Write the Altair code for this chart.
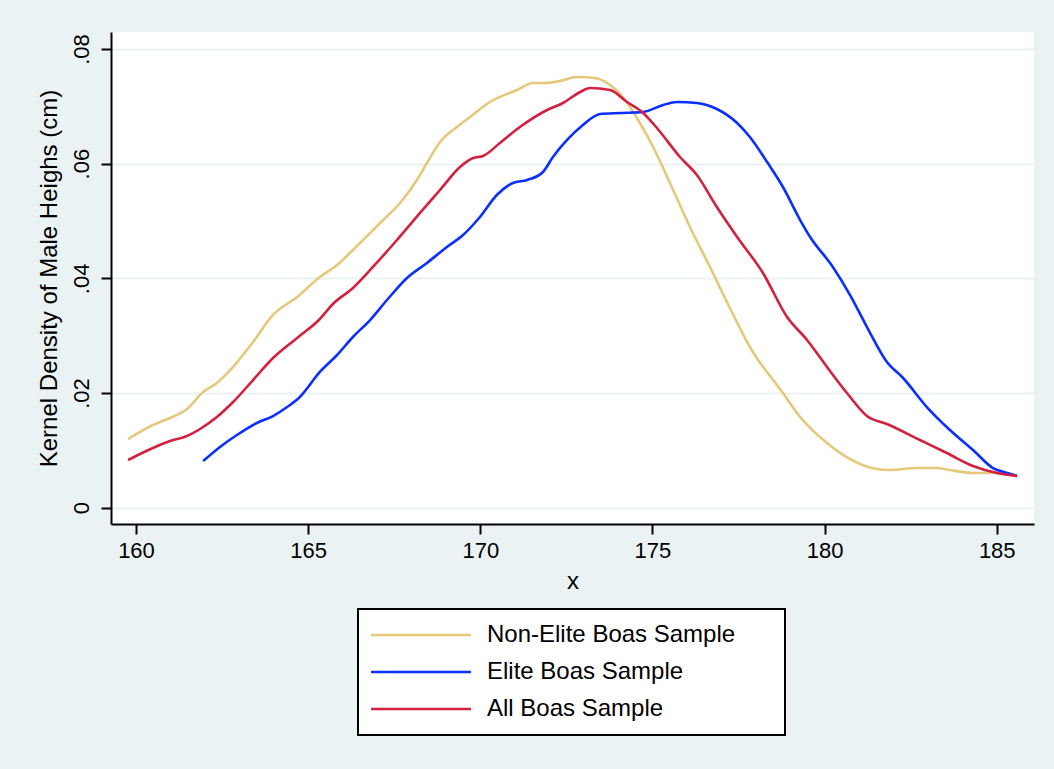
import altair as alt
import pandas as pd

series_names = ["Non-Elite Boas Sample", "Elite Boas Sample", "All Boas Sample"]
series_colors = ["#E5C87A", "#0A2FFF", "#D4203F"]

nonelite_x = [159.77, 160.49, 160.99, 161.48, 161.95, 162.35, 162.82, 163.40, 163.98, 164.68,
              165.34, 165.84, 166.30, 167.09, 167.67, 168.16, 168.45, 168.83, 169.32, 169.70,
              170.28, 171.07, 171.53, 171.94, 172.31, 172.81, 173.33, 173.77, 174.14, 174.55,
              175.02, 175.51, 176.09, 176.67, 177.25, 177.83, 178.79, 179.29, 180.07, 180.74,
              181.52, 181.90, 182.68, 183.26, 183.64, 184.31, 185.01, 185.59]
nonelite_y = [0.01198, 0.01442, 0.01564, 0.01721, 0.02018, 0.02175, 0.02454, 0.02890, 0.03361, 0.03675,
              0.04023, 0.04233, 0.04494, 0.04965, 0.05314, 0.05715, 0.06011, 0.06378, 0.06639, 0.06814,
              0.07075, 0.07285, 0.07407, 0.07407, 0.07442, 0.07511, 0.07494, 0.07372, 0.07163, 0.06796,
              0.06291, 0.05663, 0.04895, 0.04198, 0.03483, 0.02803, 0.02000, 0.01582, 0.01128, 0.00849,
              0.00675, 0.00657, 0.00692, 0.00692, 0.00657, 0.00605, 0.00605, 0.00553]

elite_x = [161.95, 162.44, 162.93, 163.51, 163.98, 164.39, 164.76, 165.34, 165.84, 166.30,
           166.80, 167.29, 167.87, 168.45, 169.03, 169.50, 169.99, 170.48, 170.95, 171.36,
           171.82, 172.11, 172.52, 172.98, 173.48, 174.06, 174.73, 175.31, 175.71, 176.29,
           176.87, 177.46, 177.83, 178.33, 178.79, 179.29, 179.58, 180.24, 180.74, 181.23,
           181.81, 182.28, 182.97, 183.64, 184.31, 184.89, 185.30, 185.59]
elite_y = [0.00814, 0.01059, 0.01268, 0.01477, 0.01599, 0.01756, 0.01931, 0.02367, 0.02663, 0.02977,
           0.03273, 0.03622, 0.04006, 0.04268, 0.04547, 0.04756, 0.05070, 0.05453, 0.05663, 0.05715,
           0.05855, 0.06116, 0.06413, 0.06674, 0.06866, 0.06884, 0.06901, 0.07023, 0.07075, 0.07058,
           0.06953, 0.06709, 0.06465, 0.06029, 0.05593, 0.05017, 0.04721, 0.04198, 0.03709, 0.03151,
           0.02541, 0.02262, 0.01756, 0.01355, 0.01006, 0.00692, 0.00605, 0.00553]

all_x = [159.77, 160.49, 160.99, 161.48, 161.86, 162.35, 162.82, 163.40, 163.98, 164.68,
         165.34, 165.72, 166.30, 166.88, 167.58, 168.25, 168.83, 169.41, 169.79, 170.08,
         170.57, 171.15, 171.94, 172.40, 172.90, 173.19, 173.77, 174.26, 174.73, 175.13,
         175.80, 176.29, 176.87, 177.46, 178.21, 178.91, 179.49, 180.07, 180.65, 181.23,
         181.81, 182.77, 183.55, 184.31, 185.01, 185.59]
all_y = [0.00832, 0.01041, 0.01163, 0.01250, 0.01373, 0.01582, 0.01843, 0.02227, 0.02611, 0.02960,
         0.03291, 0.03553, 0.03832, 0.04198, 0.04669, 0.05140, 0.05541, 0.05942, 0.06099, 0.06134,
         0.06360, 0.06639, 0.06936, 0.07058, 0.07250, 0.07319, 0.07285, 0.07075, 0.06884, 0.06622,
         0.06116, 0.05802, 0.05244, 0.04721, 0.04093, 0.03326, 0.02925, 0.02454, 0.02000, 0.01599,
         0.01460, 0.01181, 0.00954, 0.00727, 0.00605, 0.00553]

x_ticks = [160, 165, 170, 175, 180, 185]
y_ticks = [0, 0.02, 0.04, 0.06, 0.08]

rows = []
for name, xs, ys in [(series_names[0], nonelite_x, nonelite_y),
                     (series_names[1], elite_x, elite_y),
                     (series_names[2], all_x, all_y)]:
    for i, (a, b) in enumerate(zip(xs, ys)):
        rows.append({"series": name, "x": a, "density": b, "order": i})
df = pd.DataFrame(rows)

FONT = "Liberation Sans"

chart = alt.Chart(df).mark_line(strokeWidth=2.6, interpolate="monotone").encode(
    x=alt.X("x:Q", title="x",
            scale=alt.Scale(domain=[159.274, 186.082], nice=False, zero=False),
            axis=alt.Axis(values=x_ticks, grid=False, tickSize=10, labelPadding=6,
                          labelFontSize=22, titleFontSize=24, titlePadding=8,
                          domainColor="black", tickColor="black", domainWidth=2, tickWidth=2,
                          labelColor="black", titleColor="black", titleFontWeight="normal",
                          labelFont=FONT, titleFont=FONT)),
    y=alt.Y("density:Q", title="Kernel Density of Male Heighs (cm)",
            scale=alt.Scale(domain=[-0.00284, 0.08296], nice=False, zero=False),
            axis=alt.Axis(values=y_ticks, grid=True, gridColor="#EAF2F3", gridWidth=2,
                          tickSize=10, labelPadding=8, labelAngle=270, labelAlign="center",
                          labelBaseline="bottom",
                          labelExpr="datum.value == 0 ? '0' : substring(format(datum.value, '.2f'), 1)",
                          labelFontSize=22, titleFontSize=24, titlePadding=9,
                          domainColor="black", tickColor="black", domainWidth=2, tickWidth=2,
                          labelColor="black", titleColor="black", titleFontWeight="normal",
                          labelFont=FONT, titleFont=FONT)),
    color=alt.Color("series:N",
                    scale=alt.Scale(domain=series_names, range=series_colors),
                    legend=alt.Legend(title="\u00a0", titleOrient="right", titlePadding=36,
                                      titleFontSize=6, titleColor="white",
                                      orient="none", legendX=247, legendY=577,
                                      direction="vertical",
                                      symbolType="M-1.3,0H8.7", symbolSize=400,
                                      symbolStrokeWidth=2.6, symbolFillColor="transparent",
                                      labelOffset=91, labelFontSize=24, labelFont=FONT,
                                      labelColor="black", labelLimit=400,
                                      rowPadding=13, padding=14,
                                      strokeColor="black", fillColor="white")),
    order="order:Q",
    detail="series:N",
).properties(
    width=923, height=492,
    autosize=alt.AutoSizeParams(type="none"),
    padding={"left": 111, "top": 32, "right": 20, "bottom": 245},
    background="#EAF2F3",
).configure_view(
    fill="white", stroke=None
).configure_legend(
    strokeWidth=2
)

chart.save("out.html", embed_options={"renderer": "svg", "actions": False})
